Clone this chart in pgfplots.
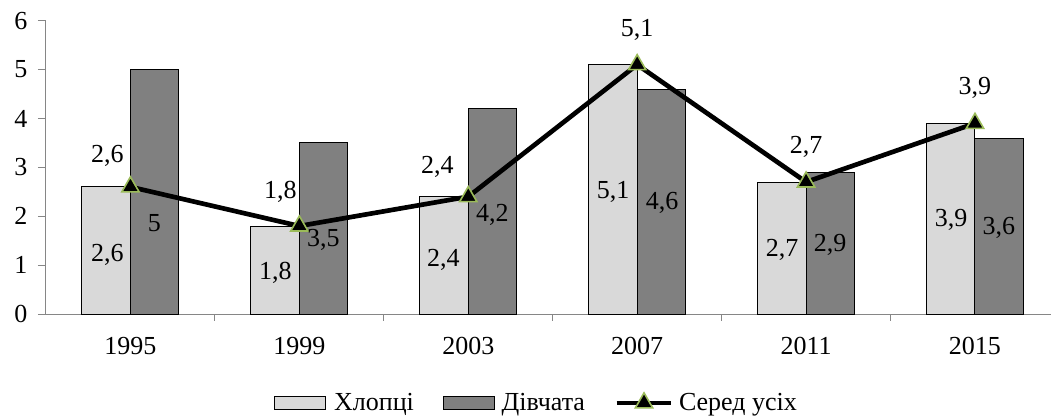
\documentclass[border=0pt]{standalone}
\usepackage{pgfplots}
\pgfplotsset{compat=1.18}
\usepackage{pgfplotstable}
\usepackage{fontspec}
\setmainfont{Liberation Serif}
\definecolor{lgray}{HTML}{D9D9D9}
\definecolor{dgray}{HTML}{808080}
\definecolor{axgray}{HTML}{868686}
\definecolor{mgreen}{HTML}{9BBB59}

\pgfplotstableread{
x y
0 2.6
1 1.8
2 2.4
3 5.1
4 2.7
5 3.9
}\boys
\pgfplotstableread{
x y
0 5.0
1 3.5
2 4.2
3 4.6
4 2.9
5 3.6
}\girls
\pgfplotstableread{
x y
0 2.6
1 1.8
2 2.4
3 5.1
4 2.7
5 3.9
}\avg
\pgfplotstableread{
x y lab
-0.136 3.23 2,6
0.888 2.49 1,8
1.817 3.00 2,4
3.0 5.81 5,1
4.0 3.42 2,7
5.0 4.62 3,9
-0.136 1.21 2,6
0.142 1.86 5
0.858 0.84 1,8
1.142 1.51 3,5
1.852 1.10 2,4
2.142 2.02 4,2
2.858 2.49 5,1
3.148 2.27 4,6
3.858 1.31 2,7
4.142 1.41 2,9
4.858 1.92 3,9
5.142 1.76 3,6
}\labels

\begin{document}
\begin{tikzpicture}[font=\fontsize{19.5}{23}\selectfont]
\path[use as bounding box] (-34.5pt,-75.75pt) rectangle (753.75pt,235.5pt);
\begin{axis}[
  at={(0,0)}, anchor=south west,
  scale only axis, width=753.75pt, height=220pt,
  xmin=-0.5, xmax=5.45, ymin=0, ymax=6,
  axis x line*=bottom, axis y line*=left,
  axis line style={axgray, line width=0.75pt},
  xtick={0,...,5},
  xticklabels={1995,1999,2003,2007,2011,2015},
  major x tick style={draw=none},
  minor xtick={0.5,1.5,2.5,3.5,4.5},
  ytick={0,...,6},
  tick align=outside,
  major tick length=6pt, minor tick length=5pt,
  tick style={axgray, line width=0.75pt},
  minor tick style={axgray, line width=0.75pt},
  yticklabel style={xshift=-4.5pt},
  xticklabel style={yshift=-8pt},
  /pgf/number format/assume math mode=true,
  clip=false,
  legend style={at={(0.4886,-0.303)}, anchor=center, draw=none, fill=none,
    /tikz/every even column/.append style={column sep=20pt}, inner sep=0pt},
  legend columns=3,
]
\addplot[ybar, bar width=0.287, bar shift=-0.1435, fill=lgray, draw=black, line width=0.75pt,
  legend image code/.code={\draw[fill=lgray,draw=black,line width=0.75pt] (0pt,-4.9pt) rectangle (38pt,4.9pt); \path (42pt,0pt);}]
  table[x=x,y=y] {\boys};
\addlegendentry{Хлопці}
\addplot[ybar, bar width=0.287, bar shift=0.1435, fill=dgray, draw=black, line width=0.75pt,
  legend image code/.code={\draw[fill=dgray,draw=black,line width=0.75pt] (0pt,-4.9pt) rectangle (38pt,4.9pt); \path (41pt,0pt);}]
  table[x=x,y=y] {\girls};
\addlegendentry{Дівчата}
\addplot[black, line width=3.5pt, mark=triangle*, mark size=7.5pt,
  mark options={fill=black, draw=mgreen, line width=1.2pt},
  legend image code/.code={\draw[black,line width=3.5pt] (0pt,0pt) -- (41pt,0pt);
     \draw[fill=black, draw=mgreen, line width=1.2pt] plot[mark=triangle*, mark size=7.5pt] coordinates {(20.5pt,0pt)}; \path (43pt,0pt);}]
  table[x=x,y=y] {\avg};
\addlegendentry{Серед усіх}
\addplot[draw=none, mark=none, forget plot, nodes near coords, point meta=explicit symbolic,
  nodes near coords align={center}, every node near coord/.append style={inner sep=0pt, text=black}]
  table[x=x,y=y,meta=lab] {\labels};
\end{axis}
\end{tikzpicture}
\end{document}
